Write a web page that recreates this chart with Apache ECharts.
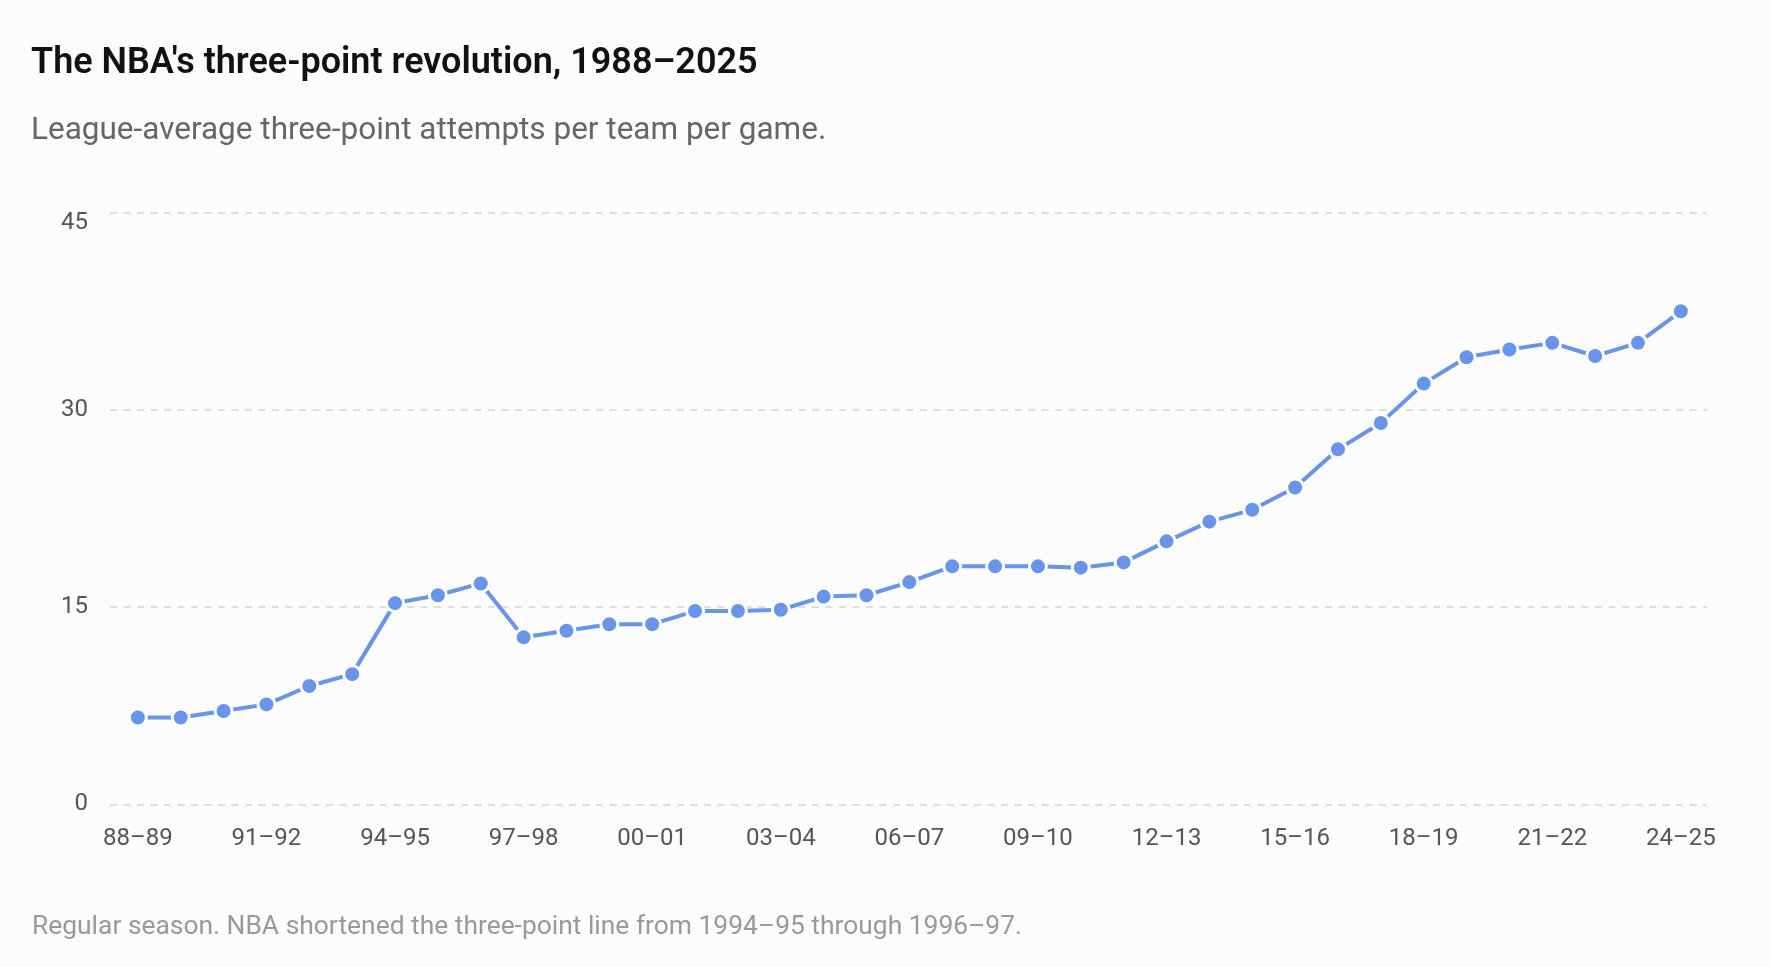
<!DOCTYPE html>
<html>
<head>
<meta charset="utf-8">
<title>NBA three-point attempts</title>
<script src="https://cdn.jsdelivr.net/npm/echarts@6/dist/echarts.min.js"></script>
<style>
  html, body { margin: 0; padding: 0; background: #fcfcfc; }
  #chart { width: 1770px; height: 967px; }
</style>
</head>
<body>
<div id="chart"></div>
<script>
// seasons 1988-89 .. 2024-25
const seasons = [
  "88–89", "89–90", "90–91", "91–92", "92–93", "93–94", "94–95", "95–96",
  "96–97", "97–98", "98–99", "99–00", "00–01", "01–02", "02–03", "03–04",
  "04–05", "05–06", "06–07", "07–08", "08–09", "09–10", "10–11", "11–12",
  "12–13", "13–14", "14–15", "15–16", "16–17", "17–18", "18–19", "19–20",
  "20–21", "21–22", "22–23", "23–24", "24–25"
];

// league-average 3PA per team per game
const attempts = [
  6.6, 6.6, 7.1, 7.6, 9.0, 9.9, 15.3, 15.9,
  16.8, 12.7, 13.2, 13.7, 13.7, 14.7, 14.7, 14.8,
  15.8, 15.9, 16.9, 18.1, 18.1, 18.1, 18.0, 18.4,
  20.0, 21.5, 22.4, 24.1, 27.0, 29.0, 32.0, 34.0,
  34.6, 35.1, 34.1, 35.1, 37.5
];

// every third season gets a label
const labelIdx = [0, 3, 6, 9, 12, 15, 18, 21, 24, 27, 30, 33, 36];
const yTicks = [0, 15, 30, 45];

const font = "Roboto";

const chart = echarts.init(document.getElementById("chart"), null, { renderer: "canvas" });

const option = {
  backgroundColor: "#fcfcfc",
  animation: false,
  textStyle: { fontFamily: font },
  title: [
    {
      text: "The NBA's three-point revolution, 1988–2025",
      left: 26, top: 41,
      textStyle: { fontFamily: font, fontSize: 36, fontWeight: 600, color: "#111" }
    },
    {
      text: "League-average three-point attempts per team per game.",
      left: 26, top: 110,
      textStyle: { fontFamily: font, fontSize: 31.5, fontWeight: 400, color: "#666" }
    },
    {
      text: "Regular season. NBA shortened the three-point line from 1994–95 through 1996–97.",
      left: 27, top: 909,
      textStyle: { fontFamily: font, fontSize: 26.4, fontWeight: 400, color: "#999" }
    }
  ],
  grid: { left: 110, right: 63, top: 212.7, bottom: 162.7, containLabel: false },
  xAxis: {
    type: "value",
    min: -0.65,
    max: 36.61,
    axisLine: { show: false },
    axisTick: { show: false },
    splitLine: { show: false },
    axisLabel: {
      customValues: labelIdx,
      formatter: (v) => seasons[Math.round(v)] || "",
      margin: 23,
      fontSize: 24,
      color: "#555",
      fontFamily: font
    }
  },
  yAxis: {
    type: "value",
    min: yTicks[0],
    max: yTicks[yTicks.length - 1],
    interval: 15,
    axisLine: { show: false },
    axisTick: { show: false },
    axisLabel: {
      margin: 22, fontSize: 24, color: "#555", fontFamily: font,
      // top label sits a little below its gridline
      formatter: (v) => (v === yTicks[yTicks.length - 1] ? "{top|" + v + "}" : String(v)),
      rich: { top: { fontSize: 24, color: "#555", fontFamily: font, padding: [21, 0, 0, 0] } }
    },
    splitLine: { lineStyle: { color: "#dedede", width: 2, type: [7, 6.5] } }
  },
  series: [
    {
      type: "line",
      data: attempts.map((v, i) => [i, v]),
      symbol: "circle",
      symbolSize: 17,
      lineStyle: { color: "#6895ea", width: 4 },
      itemStyle: { color: "#6895ea", borderColor: "#fcfcfc", borderWidth: 3 }
    }
  ]
};

chart.setOption(option);
</script>
</body>
</html>
